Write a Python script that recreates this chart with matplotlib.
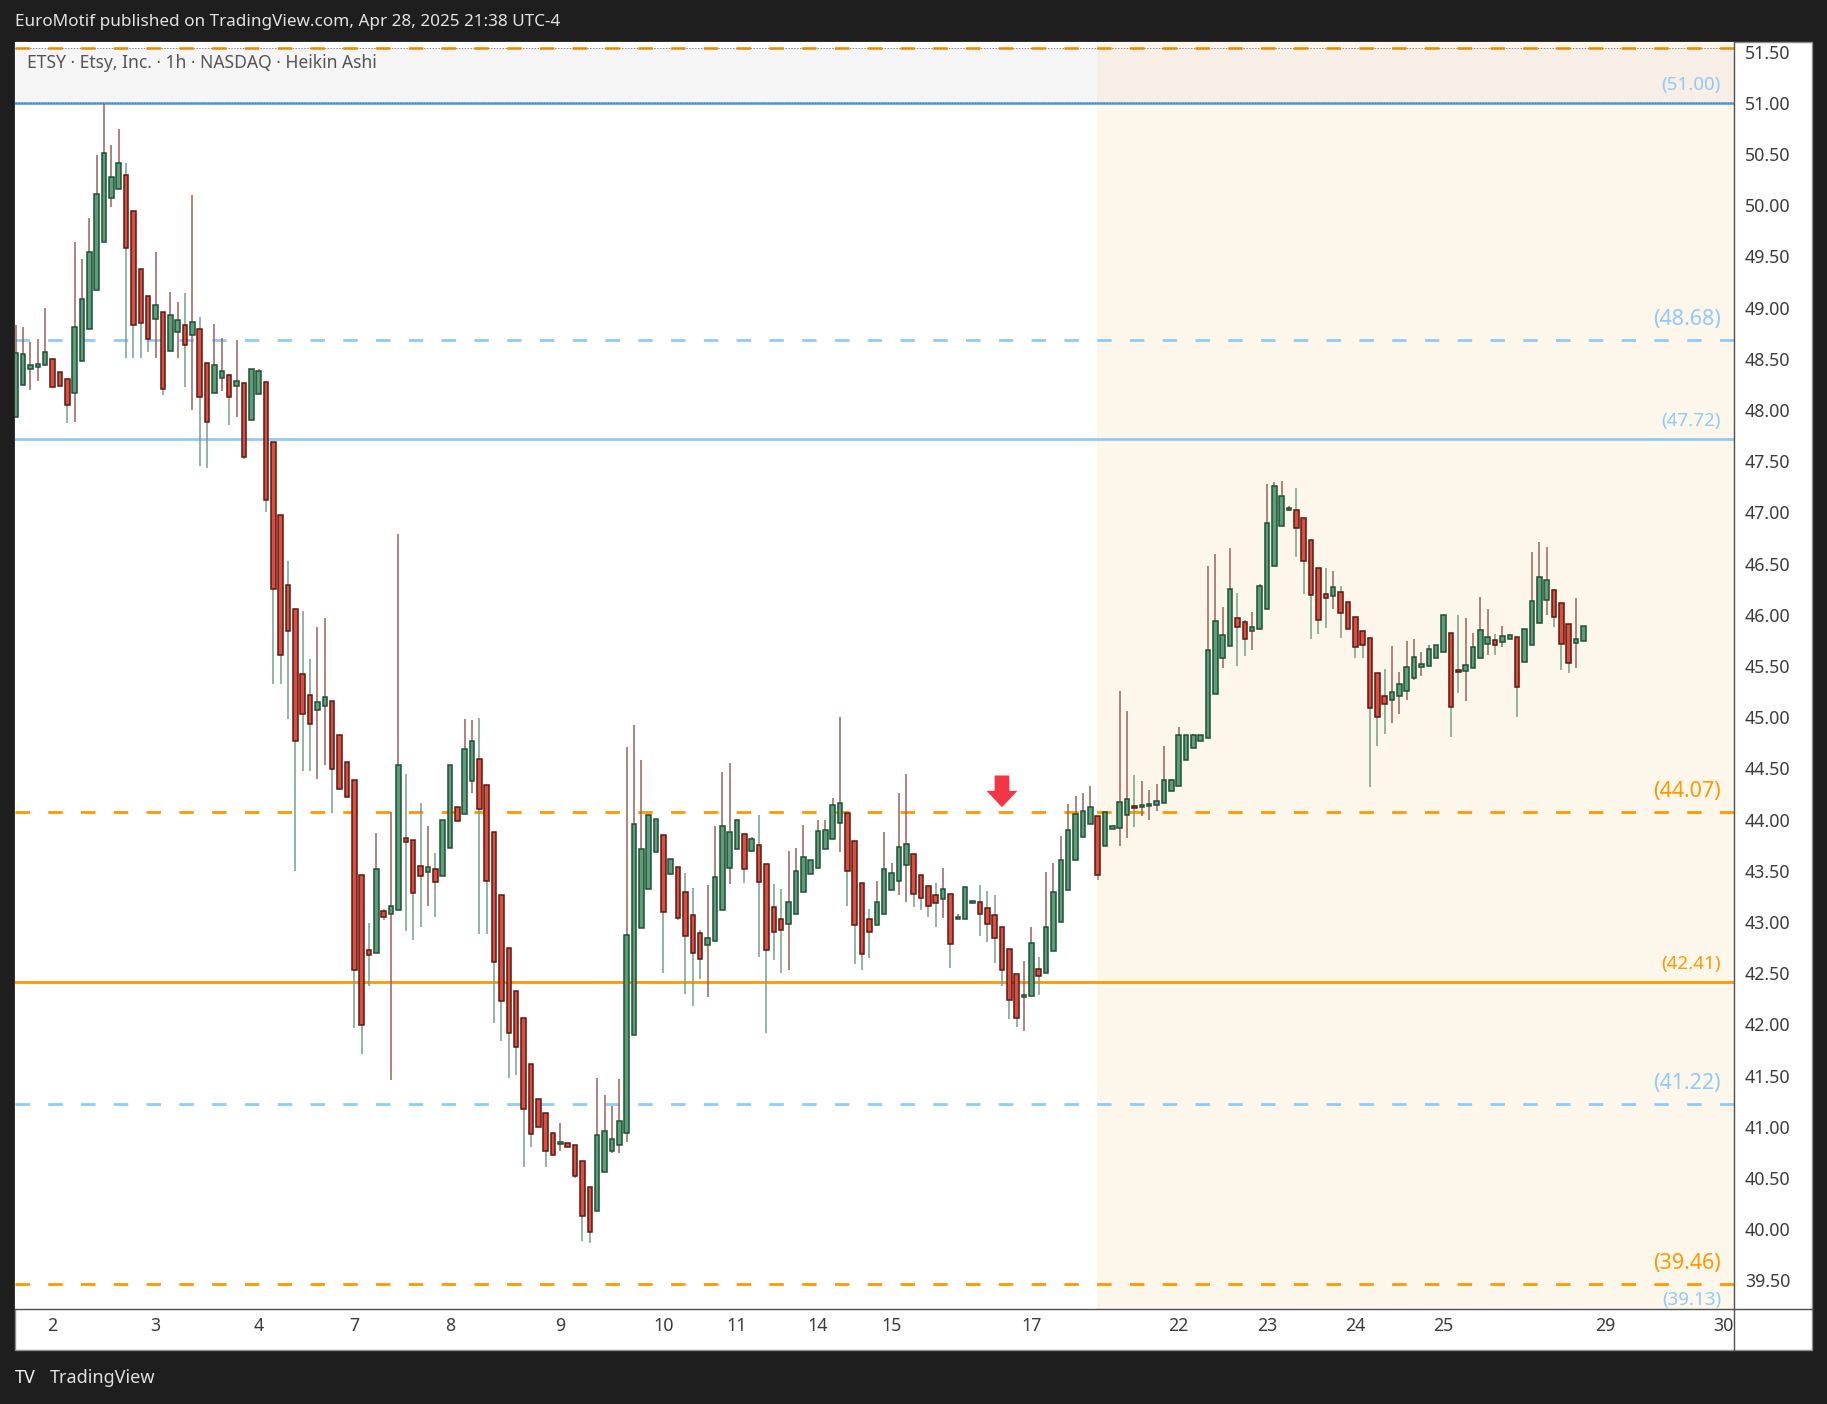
import numpy as np
import matplotlib
matplotlib.use('Agg')
import matplotlib.pyplot as plt
from matplotlib.patches import Polygon, Rectangle
from matplotlib.lines import Line2D

plt.rcParams['font.family'] = ['Noto Sans', 'DejaVu Sans']

# Heikin Ashi candles (1h bars, ETSY)
ha_open = [47.93, 48.24, 48.40, 48.42, 48.44, 48.50, 48.37, 48.30, 48.17, 48.48,
           48.79, 49.17, 49.64, 50.07, 50.16, 50.29, 49.94, 49.38, 49.11, 48.89,
           48.96, 48.58, 48.76, 48.83, 48.73, 48.79, 48.46, 48.17, 48.31, 48.34,
           48.23, 48.26, 47.90, 48.16, 48.27, 47.69, 46.97, 46.29, 46.06, 45.42,
           45.22, 45.07, 45.11, 45.16, 44.83, 44.56, 44.39, 43.46, 42.73, 42.70,
           43.11, 43.08, 43.12, 43.82, 43.80, 43.55, 43.49, 43.52, 43.45, 43.72,
           44.12, 44.05, 44.38, 44.59, 44.34, 43.88, 43.26, 42.75, 42.33, 42.06,
           41.61, 41.27, 41.13, 40.94, 40.83, 40.84, 40.82, 40.67, 40.41, 40.18,
           40.56, 40.76, 40.82, 40.94, 41.90, 42.94, 43.32, 43.68, 43.85, 43.47,
           43.54, 43.29, 43.07, 42.89, 42.77, 42.81, 43.12, 43.53, 43.71, 43.86,
           43.69, 43.75, 43.57, 43.15, 43.03, 42.98, 43.08, 43.29, 43.47, 43.53,
           43.71, 43.81, 43.97, 44.06, 43.79, 43.38, 43.03, 42.97, 43.08, 43.31,
           43.40, 43.56, 43.66, 43.46, 43.35, 43.26, 43.22, 43.27, 43.03, 43.03,
           43.18, 43.19, 43.14, 43.07, 42.95, 42.74, 42.49, 42.27, 42.28, 42.54,
           42.50, 42.72, 43.00, 43.31, 43.60, 43.83, 43.96, 44.03, 43.74, 43.91,
           43.92, 44.04, 44.125, 44.12, 44.13, 44.14, 44.16, 44.28, 44.33, 44.58,
           44.70, 44.77, 44.80, 45.23, 45.58, 45.69, 45.97, 45.93, 45.84, 45.86,
           46.06, 46.48, 46.87, 47.02, 47.02, 46.94, 46.73, 46.46, 46.20, 46.18,
           46.22, 46.12, 45.98, 45.84, 45.77, 45.43, 45.21, 45.17, 45.21, 45.26,
           45.38, 45.49, 45.50, 45.58, 45.64, 45.82, 45.455, 45.45, 45.48, 45.58,
           45.71, 45.75, 45.73, 45.76, 45.78, 45.54, 45.70, 45.92, 46.14, 46.24,
           46.11, 45.91, 45.72, 45.74]
ha_high = [48.83, 48.81, 48.66, 48.69, 49.00, 48.50, 48.37, 48.30, 49.64, 49.47,
           49.87, 50.49, 50.99, 50.59, 50.74, 50.41, 49.94, 49.38, 49.11, 49.54,
           48.96, 49.15, 49.05, 49.14, 50.10, 48.91, 48.46, 48.84, 48.70, 48.35,
           48.68, 48.26, 48.40, 48.40, 48.27, 47.69, 46.97, 46.52, 46.06, 46.04,
           45.57, 45.88, 45.97, 45.16, 44.83, 44.56, 44.39, 43.46, 42.99, 43.87,
           43.13, 44.07, 46.79, 44.44, 43.80, 44.16, 43.94, 43.67, 44.00, 44.53,
           44.12, 44.98, 44.97, 44.99, 44.34, 43.88, 43.26, 42.75, 42.33, 42.06,
           41.61, 41.27, 41.13, 40.94, 41.04, 40.84, 40.82, 40.67, 40.41, 41.48,
           41.31, 41.20, 41.47, 44.71, 44.92, 44.58, 44.04, 44.01, 43.85, 43.61,
           43.54, 43.48, 43.33, 42.92, 43.36, 43.94, 44.46, 44.55, 44.00, 43.86,
           43.83, 44.04, 43.57, 43.37, 43.32, 43.69, 43.72, 43.95, 43.60, 44.00,
           44.00, 44.21, 45.00, 44.06, 43.79, 43.38, 43.13, 43.40, 43.88, 43.58,
           44.26, 44.44, 43.66, 43.46, 43.35, 43.38, 43.53, 43.27, 43.08, 43.34,
           43.20, 43.36, 43.30, 43.26, 42.95, 42.74, 42.49, 42.62, 42.95, 42.66,
           43.49, 43.58, 43.84, 44.15, 44.23, 44.26, 44.33, 44.03, 44.07, 43.94,
           45.26, 45.06, 44.43, 44.38, 44.29, 44.35, 44.72, 44.40, 44.90, 44.83,
           44.84, 44.83, 46.48, 46.59, 46.08, 46.65, 46.21, 45.95, 46.03, 46.30,
           47.28, 47.30, 47.31, 47.06, 47.24, 46.94, 46.73, 46.46, 46.46, 46.43,
           46.28, 46.12, 45.98, 45.84, 45.77, 45.43, 45.47, 45.69, 45.44, 45.74,
           45.76, 45.64, 45.70, 45.70, 46.00, 45.82, 46.00, 45.97, 45.82, 46.17,
           46.06, 45.81, 45.89, 45.80, 45.78, 45.86, 46.61, 46.71, 46.66, 46.24,
           46.11, 45.91, 46.16, 45.89]
ha_low = [47.93, 48.24, 48.19, 48.28, 48.44, 48.22, 48.23, 47.87, 47.88, 48.48,
          48.79, 49.17, 49.64, 49.98, 50.16, 48.51, 48.51, 48.51, 48.57, 48.51,
          48.15, 48.58, 48.51, 48.22, 48.00, 47.45, 47.43, 48.17, 48.18, 47.85,
          47.93, 47.52, 47.90, 48.16, 47.00, 45.32, 45.32, 44.98, 43.50, 44.47,
          44.47, 44.40, 44.53, 44.06, 44.30, 44.22, 41.96, 41.71, 42.37, 42.70,
          43.02, 41.46, 43.12, 42.91, 42.82, 42.95, 43.16, 43.05, 43.45, 43.72,
          43.99, 44.05, 44.26, 42.88, 42.88, 42.01, 41.84, 41.48, 41.51, 40.61,
          40.80, 41.00, 40.61, 40.72, 40.76, 40.80, 40.50, 39.88, 39.86, 40.18,
          40.56, 40.74, 40.74, 40.85, 41.90, 42.94, 43.32, 43.68, 42.50, 43.47,
          43.02, 42.30, 42.18, 42.44, 42.27, 42.81, 43.12, 43.37, 43.71, 43.38,
          43.69, 42.66, 41.92, 42.63, 42.50, 42.53, 43.08, 43.29, 43.47, 43.53,
          43.71, 43.81, 43.68, 43.16, 42.59, 42.53, 42.65, 42.97, 43.08, 43.31,
          43.26, 43.19, 43.15, 43.12, 43.05, 42.95, 43.04, 42.55, 43.03, 43.03,
          43.18, 42.86, 42.80, 42.60, 42.37, 42.05, 41.97, 41.93, 42.28, 42.29,
          42.50, 42.72, 43.00, 43.31, 43.60, 43.83, 43.96, 43.41, 43.74, 43.91,
          43.74, 43.82, 43.93, 44.03, 44.00, 44.08, 44.16, 44.28, 44.33, 44.58,
          44.70, 44.77, 44.80, 45.23, 45.48, 45.69, 45.50, 45.60, 45.66, 45.86,
          46.06, 46.48, 46.87, 47.01, 46.56, 46.20, 45.76, 45.81, 45.87, 46.06,
          45.77, 45.86, 45.58, 45.58, 44.32, 44.72, 44.84, 44.94, 45.03, 45.17,
          45.36, 45.40, 45.50, 45.58, 45.64, 44.81, 45.24, 45.16, 45.48, 45.58,
          45.61, 45.61, 45.68, 45.76, 45.00, 45.54, 45.70, 45.92, 46.00, 45.88,
          45.46, 45.43, 45.48, 45.74]
ha_close = [48.56, 48.55, 48.44, 48.45, 48.57, 48.22, 48.23, 48.05, 48.81, 49.08,
            49.54, 50.11, 50.51, 50.27, 50.41, 49.58, 48.83, 48.85, 48.69, 49.02,
            48.20, 48.93, 48.88, 48.63, 48.86, 48.13, 47.88, 48.44, 48.38, 48.13,
            48.28, 47.54, 48.40, 48.38, 47.12, 46.25, 45.61, 45.84, 44.77, 45.03,
            44.93, 45.15, 45.20, 44.49, 44.30, 44.22, 42.53, 41.99, 42.68, 43.52,
            43.05, 43.16, 44.53, 43.78, 43.28, 43.45, 43.54, 43.39, 44.00, 44.53,
            43.99, 44.69, 44.77, 44.10, 43.40, 42.61, 42.23, 41.92, 41.78, 41.17,
            40.93, 41.00, 40.76, 40.72, 40.85, 40.80, 40.52, 40.13, 39.97, 40.92,
            40.96, 40.88, 41.06, 42.87, 43.96, 43.71, 44.04, 44.01, 43.10, 43.61,
            43.04, 42.86, 42.70, 42.64, 42.84, 43.44, 43.94, 43.88, 44.00, 43.52,
            43.81, 43.39, 42.73, 42.90, 42.92, 43.19, 43.50, 43.63, 43.60, 43.89,
            43.90, 44.14, 44.16, 43.50, 42.97, 42.69, 42.90, 43.19, 43.52, 43.48,
            43.73, 43.76, 43.27, 43.23, 43.16, 43.18, 43.32, 42.78, 43.05, 43.34,
            43.20, 43.08, 42.98, 42.84, 42.53, 42.24, 42.06, 42.29, 42.79, 42.47,
            42.95, 43.29, 43.60, 43.90, 44.05, 44.08, 44.12, 43.46, 44.07, 43.94,
            44.17, 44.20, 44.115, 44.14, 44.14, 44.18, 44.39, 44.39, 44.83, 44.83,
            44.83, 44.83, 45.66, 45.94, 45.80, 46.25, 45.88, 45.76, 45.88, 46.28,
            46.90, 47.26, 47.16, 47.03, 46.85, 46.52, 46.19, 45.95, 46.16, 46.27,
            46.02, 45.86, 45.68, 45.70, 45.09, 45.00, 45.13, 45.25, 45.32, 45.49,
            45.59, 45.52, 45.67, 45.70, 46.00, 45.10, 45.445, 45.51, 45.68, 45.85,
            45.78, 45.70, 45.79, 45.80, 45.29, 45.86, 46.13, 46.37, 46.34, 45.98,
            45.71, 45.53, 45.76, 45.89]

# day labels on the time axis (bar index of the first bar of each day)
day_labels = ['2', '3', '4', '7', '8', '9', '10', '11', '14', '15', '17',
              '22', '23', '24', '25', '29', '30']
day_bars = [5, 19, 33, 46, 59, 74, 88, 98, 109, 119, 138, 158, 170, 182, 194, 216, 232]
bold_days = ['7', '14']

# horizontal levels drawn on the chart
level_prices = [51.53, 51.00, 48.68, 47.72, 44.07, 42.41, 41.22, 39.46, 39.13]
level_kinds = ['orange', 'blue_dark', 'blue', 'blue', 'orange', 'orange', 'blue', 'orange', 'blue']
level_dashed = [True, False, True, False, True, False, True, True, False]
level_labels = [None, '(51.00)', '(48.68)', '(47.72)', '(44.07)', '(42.41)',
                '(41.22)', '(39.46)', '(39.13)']
level_big = [False, False, True, False, True, False, True, True, False]

# red arrow marker
arrow_bar = 134
arrow_tip = 44.12
arrow_top = 44.43

# shaded session (from this bar to the right edge)
shade_start = 146.9

# ---- figure layout (pixels of the 1827x1404 output)
W, H = 1827, 1404
BG = '#1e1e1e'
fig = plt.figure(figsize=(W / 100, H / 100), dpi=100, facecolor=BG)


def fx(x):
    return x / W


def fy(y):
    return 1 - y / H


# white card holding chart + axes
card = Rectangle((fx(15), fy(1350)), fx(1812) - fx(15), fy(42) - fy(1350),
                 transform=fig.transFigure, facecolor='white',
                 edgecolor='#8c8c8c', lw=1, zorder=-10)
fig.patches.append(card)

ax = fig.add_axes([fx(15), fy(1309), fx(1734) - fx(15), fy(42) - fy(1309)])
ax.set_zorder(5)
ax.set_facecolor('white')

n = len(ha_open)
x = np.arange(n)
o = np.array(ha_open)
c = np.array(ha_close)
hi = np.array(ha_high)
lo = np.array(ha_low)
up = c >= o

# backgrounds
ax.axhspan(51.00, 51.53, color='#f5f5f5', zorder=0, lw=0)
ax.axvspan(shade_start, 300, color='#fbe6c8', alpha=0.35, zorder=0.5, lw=0)

# levels
col_map = {'orange': '#ff9800', 'blue': '#90caf9', 'blue_dark': '#5aa7ea'}
for p, kind, dsh in zip(level_prices, level_kinds, level_dashed):
    if dsh:
        ax.axhline(p, color=col_map[kind], lw=2, dashes=(5.2, 6.6), zorder=1)
    else:
        ax.axhline(p, color=col_map[kind], lw=2, zorder=1)
# thin dotted lines on the top levels
ax.axhline(51.53, color='#8a8a8a', lw=0.7, dashes=(1.5, 1.5), zorder=1.1)
ax.axhline(51.00, color='#5d7d9a', lw=0.7, dashes=(1.5, 1.5), zorder=1.1)

for p, kind, lab, big in zip(level_prices, level_kinds, level_labels, level_big):
    if lab is None:
        continue
    tcol = '#ff9800' if kind == 'orange' else '#90caf9'
    ax.annotate(lab, xy=(0.9925, p), xycoords=('axes fraction', 'data'),
                xytext=(0, 15 if big else 13), textcoords='offset points',
                ha='right', va='center', color=tcol,
                fontsize=15.5 if big else 13.5, annotation_clip=False, zorder=5)

# candles: wicks first, then bodies
wick_col = np.where(up, '#9a625b', '#76a08a')
ax.vlines(x, lo, hi, colors=wick_col, lw=1.1, zorder=2)
body_bot = np.minimum(o, c)
body_h = np.maximum(np.abs(c - o), 0.02)
ax.bar(x[up], body_h[up], bottom=body_bot[up], width=0.62, color='#5c9e79',
       edgecolor='#1f4f35', lw=1.1, zorder=3)
ax.bar(x[~up], body_h[~up], bottom=body_bot[~up], width=0.62, color='#d9503e',
       edgecolor='#5c1813', lw=1.1, zorder=3)

# red arrow pointing down
head = 0.16
ax.add_patch(Polygon([(arrow_bar - 1.0, arrow_top), (arrow_bar + 1.0, arrow_top),
                      (arrow_bar + 1.0, arrow_tip + head), (arrow_bar + 2.1, arrow_tip + head),
                      (arrow_bar, arrow_tip), (arrow_bar - 2.1, arrow_tip + head),
                      (arrow_bar - 1.0, arrow_tip + head)],
                     closed=True, facecolor='#f23645', edgecolor='none', zorder=6))

# axes ranges / ticks
ax.set_xlim(-0.1, 233.46)
ax.set_ylim(39.22, 51.593)
ax.yaxis.tick_right()
ax.set_yticks(np.arange(39.5, 51.51, 0.5))
ax.set_yticklabels(['%.2f' % v for v in np.arange(39.5, 51.51, 0.5)])
ax.tick_params(axis='y', length=0, pad=8, labelsize=12.8, labelcolor='#3c3c3c')
ax.set_xticks(day_bars)
ax.set_xticklabels(day_labels)
ax.tick_params(axis='x', length=0, pad=6, labelsize=12.8, labelcolor='#3c3c3c')
for t in ax.get_xticklabels():
    if t.get_text() in bold_days:
        t.set_fontweight('bold')
for s in ax.spines.values():
    s.set_visible(False)

# separators of the price and time scales
fig.add_artist(Line2D([fx(1734), fx(1734)], [fy(42), fy(1350)], color='#505050', lw=1,
                      transform=fig.transFigure, zorder=10))
fig.add_artist(Line2D([fx(15), fx(1812)], [fy(1309), fy(1309)], color='#505050', lw=1,
                      transform=fig.transFigure, zorder=10))

# texts
fig.text(fx(15), fy(22), 'EuroMotif published on TradingView.com, Apr 28, 2025 21:38 UTC-4',
         color='#e3e3e3', fontsize=12.3, ha='left', va='center')
fig.text(fx(27), fy(63), 'ETSY \u00b7 Etsy, Inc. \u00b7 1h \u00b7 NASDAQ \u00b7 Heikin Ashi',
         color='#555555', fontsize=12.6, ha='left', va='center', zorder=20)
fig.text(fx(15), fy(1378), 'TV', color='#f0f0f0', fontsize=13, fontweight='bold',
         ha='left', va='center')
fig.text(fx(50), fy(1378), 'TradingView', color='#e0e0e0', fontsize=13,
         ha='left', va='center')

fig.savefig('out.png', dpi=100, facecolor=BG)
